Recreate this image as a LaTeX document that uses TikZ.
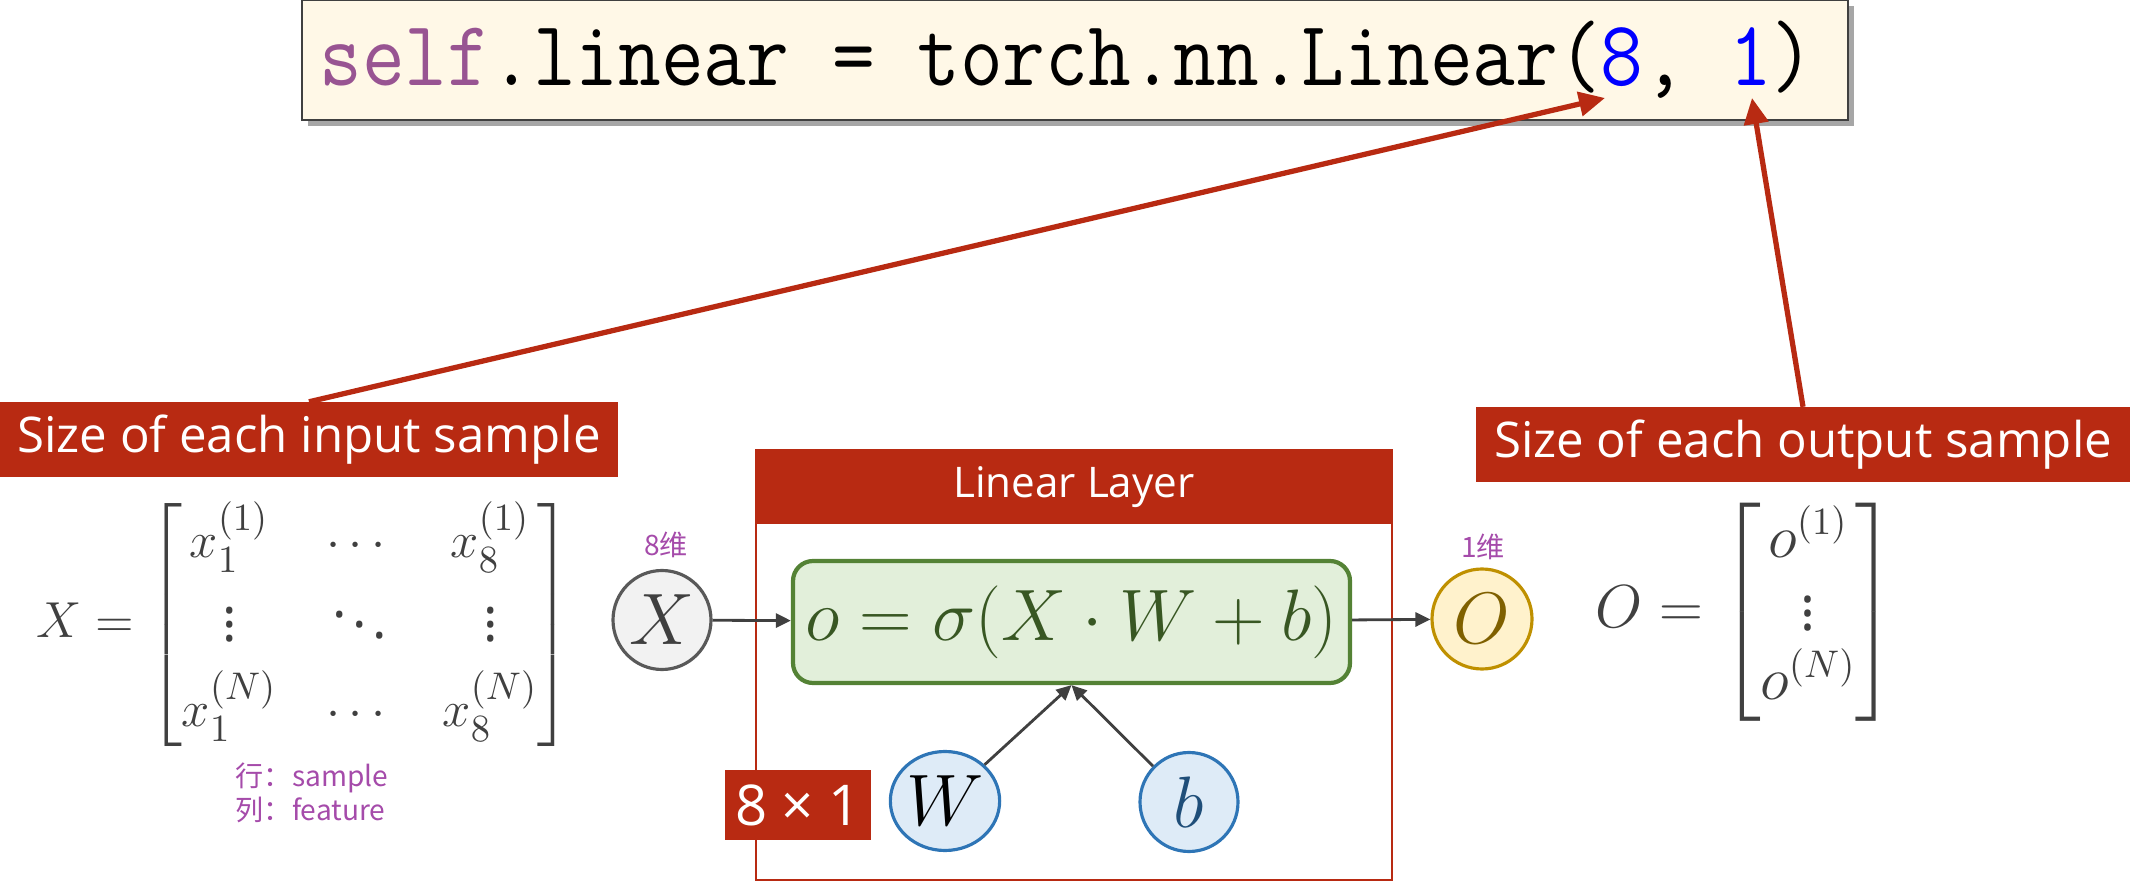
\documentclass[tikz,border=0pt]{standalone}
\usepackage{amsmath}
\usepackage{graphicx}
\usepackage{fontspec}
\setmainfont{Open Sans}
\newfontfamily\cjk{Noto Sans CJK SC}
\usetikzlibrary{arrows.meta}
\usetikzlibrary{positioning}
\usetikzlibrary{shapes.geometric}
\usetikzlibrary{shadows}

\definecolor{tagred}{RGB}{184,42,18}
\definecolor{codebg}{RGB}{255,248,231}
\definecolor{codepurple}{RGB}{152,84,146}
\definecolor{notepurple}{RGB}{165,75,170}
\definecolor{mathgray}{RGB}{64,64,64}
\definecolor{eqfill}{RGB}{226,239,218}
\definecolor{eqline}{RGB}{84,130,53}
\definecolor{eqtext}{RGB}{56,87,35}
\definecolor{xfill}{RGB}{242,242,242}
\definecolor{xline}{RGB}{89,89,89}
\definecolor{ofill}{RGB}{255,242,204}
\definecolor{oline}{RGB}{191,144,0}
\definecolor{otext}{RGB}{127,96,0}
\definecolor{wfill}{RGB}{222,235,247}
\definecolor{wline}{RGB}{46,117,182}
\definecolor{btext}{RGB}{31,78,121}

\tikzset{tag/.style = {fill=tagred, text=white, inner sep=0pt, minimum height=0.75cm,
                       font=\fontsize{14}{16}\selectfont}}
\tikzset{var/.style = {ellipse, line width=0.9pt, minimum width=0.98cm, minimum height=0.99cm,
                       inner sep=0pt, font=\fontsize{21}{25}\selectfont}}
\tikzset{note/.style = {text=notepurple, inner sep=0pt, font=\cjk\fontsize{8}{9.7}\selectfont}}
\tikzset{flow/.style = {draw=mathgray, line width=0.8pt, -{Triangle[length=0.15cm,width=0.14cm]}}}
\tikzset{pointer/.style = {draw=tagred, line width=1.5pt, -{Triangle[length=0.26cm,width=0.24cm]}}}
\tikzset{codebox/.style = {draw=mathgray, line width=0.6pt, fill=codebg, inner sep=0pt,
                           minimum width=15.46cm, minimum height=1.20cm,
                           drop shadow={shadow xshift=0.06cm, shadow yshift=-0.06cm, fill=black, opacity=0.35}}}

\begin{document}
\begin{tikzpicture}
	\useasboundingbox (0,0) rectangle (21.30,-8.81);
	% code line
	\node[codebox] (code) at (10.75,-0.60) {};
	\node[inner sep=0pt, font=\ttfamily\fontsize{23.6}{28}\selectfont] (codeline) at (10.67,-0.60)
		{\scalebox{1}[1.12]{\textcolor{codepurple}{self}.linear = torch.nn.Linear(\textcolor{blue}{8}, \textcolor{blue}{1})}};
	\coordinate (eight) at (16.05,-0.98);
	\coordinate (one) at (17.52,-0.98);
	% labels and pointers
	\node[tag, minimum width=6.18cm] (intag) at (3.09,-4.40) {Size of each input sample};
	\node[tag, minimum width=6.54cm] (outtag) at (18.03,-4.45) {Size of each output sample};
	\draw[pointer] (intag.north) -- (eight);
	\draw[pointer] (outtag.north) -- (one);
	% layer
	\node[draw=tagred, line width=0.8pt, minimum width=6.36cm, minimum height=4.30cm, inner sep=0pt] (layer) at (10.74,-6.65) {};
	\node[fill=tagred, text=white, minimum width=6.36cm, minimum height=0.75cm, inner sep=0pt, anchor=north,
		font=\fontsize{12}{14}\selectfont] (layertitle) at (layer.north) {Linear Layer};
	\node[draw=eqline, fill=eqfill, rounded corners=0.2cm, line width=1.2pt, minimum width=5.57cm, minimum height=1.22cm,
		text=eqtext, font=\fontsize{20}{24}\selectfont] (eq) at (10.715,-6.22) {$o = \sigma(X\cdot W + b)$};
	\node[var, draw=xline, fill=xfill, text=mathgray] (xin) at (6.62,-6.20) {$X$};
	\node[var, draw=oline, fill=ofill, text=otext, minimum width=1.0cm, minimum height=1.0cm] (oout) at (14.82,-6.19) {$O$};
	\node[var, draw=wline, fill=wfill, text=black] (wvar) at (9.45,-8.01) {$W$};
	\node[var, draw=wline, fill=wfill, text=btext] (bvar) at (11.89,-8.02) {$b$};
	\node[fill=tagred, text=white, minimum width=1.46cm, minimum height=0.70cm, inner sep=0pt,
		font=\fontsize{16}{19}\selectfont] (wsize) at (7.98,-8.05) {8 × 1};
	\node[note] (xdim) at (6.66,-5.45) {8维};
	\node[note] (odim) at (14.83,-5.47) {1维};
	\draw[flow] (xin) -- (eq);
	\draw[flow] (eq) -- (oout);
	\draw[flow] (wvar) -- (eq.south);
	\draw[flow] (bvar) -- (eq.south);
	% matrices
	\node[text=mathgray, font=\fontsize{15.5}{18.5}\selectfont] (xmat) at (3.04,-6.25)
		{\setlength\arraycolsep{7pt}\renewcommand\arraystretch{1.3}%
		$X = \begin{bmatrix} x_1^{(1)} & \cdots & x_8^{(1)} \\ \vdots & \ddots & \vdots \\ x_1^{(N)} & \cdots & x_8^{(N)} \end{bmatrix}$};
	\node[note, align=left] (xaxes) at (3.12,-7.93) {行：sample\\列：feature};
	\node[text=mathgray, font=\fontsize{16}{19}\selectfont] (omat) at (17.46,-6.12)
		{\renewcommand\arraystretch{0.9}%
		$O = \begin{bmatrix} o^{(1)} \\ \vdots \\ o^{(N)} \end{bmatrix}$};
\end{tikzpicture}
\end{document}
